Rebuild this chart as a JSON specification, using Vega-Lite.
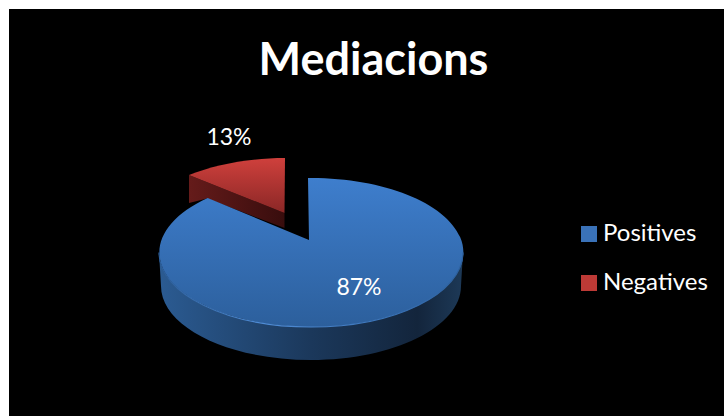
{
  "$schema": "https://vega.github.io/schema/vega-lite/v6.json",
  "width": 715,
  "height": 407,
  "padding": {"left": 9, "top": 9, "right": 0, "bottom": 0},
  "autosize": {"type": "none"},
  "background": "white",
  "view": {"fill": "black", "stroke": null},
  "title": {
    "text": "Mediacions",
    "anchor": "middle",
    "frame": "group",
    "font": "Lato",
    "fontSize": 45,
    "fontWeight": "bold",
    "color": "white",
    "baseline": "alphabetic",
    "offset": 0,
    "dx": 7,
    "dy": 111
  },
  "data": {
    "values": [
      {"category": "Positives", "share": 0.87},
      {"category": "Negatives", "share": 0.13}
    ]
  },
  "layer": [
    {
      "description": "Cut face of the small slice",
      "transform": [{"filter": "datum.category === 'Negatives'"}],
      "mark": {
        "type": "point", "filled": true, "size": 4, "opacity": 1,
        "shape": "M-177.5 -37.5 L-82 0.5 L-82 15.5 L-159.5 -14 L-177.5 -9.5 Z",
        "fill": {"gradient": "linear", "x1": 0, "y1": 0, "x2": 1, "y2": 0, "stops": [
          {"offset": 0, "color": "#651b1a"},
          {"offset": 1, "color": "#380d0d"}
        ]}
      }
    },
    {
      "description": "Rounded side wall of the large slice",
      "transform": [{"filter": "datum.category === 'Positives'"}],
      "mark": {
        "type": "point", "filled": true, "size": 4, "opacity": 1,
        "shape": "M-207.5 40 L-205.5 73.5 A150 74 0 0 0 94.5 73.5 L96.5 40 A152 74.5 0 0 1 -207.5 40 Z",
        "fill": {"gradient": "linear", "x1": 0, "y1": 0, "x2": 1, "y2": 0, "stops": [
          {"offset": 0, "color": "#2b5b92"},
          {"offset": 0.5, "color": "#1b385b"},
          {"offset": 0.85, "color": "#13253c"},
          {"offset": 1, "color": "#1d3957"}
        ]}
      }
    },
    {
      "description": "Small squares tucked under the large slice that feed the legend",
      "mark": {"type": "point", "filled": true, "size": 4, "opacity": 1, "shape": "square"},
      "encoding": {
        "color": {
          "field": "category",
          "scale": {
            "domain": ["Positives", "Negatives"],
            "range": ["#3a72b8", "#bd3a36"]
          },
          "legend": {
            "orient": "none",
            "legendX": 568,
            "legendY": 213,
            "title": null,
            "symbolType": "square",
            "symbolSize": 256,
            "symbolStrokeWidth": 0,
            "symbolOpacity": 1,
            "labelColor": "white",
            "labelFont": "Lato",
            "labelFontSize": 24,
            "labelOffset": 2,
            "labelLimit": 200,
            "rowPadding": 25
          }
        }
      }
    },
    {
      "description": "Top face of the large slice",
      "transform": [{"filter": "datum.category === 'Positives'"}],
      "mark": {
        "type": "point", "filled": true, "size": 4, "opacity": 1,
        "shape": "M-57.5 27.5 L-58.5 -34.5 A152 74.5 0 1 1 -158.8 -14.5 Z",
        "fill": {"gradient": "linear", "x1": 0, "y1": 0, "x2": 0, "y2": 1, "stops": [
          {"offset": 0, "color": "#3e7ecd"},
          {"offset": 1, "color": "#2c5f9c"}
        ]}
      }
    },
    {
      "description": "Top face of the small slice",
      "transform": [{"filter": "datum.category === 'Negatives'"}],
      "mark": {
        "type": "point", "filled": true, "size": 4, "opacity": 1,
        "shape": "M-82 0.5 L-81.5 -54.5 A150 72 0 0 0 -177.5 -37.5 Z",
        "fill": {"gradient": "linear", "x1": 0, "y1": 0, "x2": 0, "y2": 1, "stops": [
          {"offset": 0, "color": "#cf403c"},
          {"offset": 1, "color": "#8a2726"}
        ]}
      }
    },
    {
      "description": "Light rim along the front edge of the large slice",
      "transform": [{"filter": "datum.category === 'Positives'"}],
      "mark": {
        "type": "point",
        "filled": false,
        "size": 4,
        "opacity": 1,
        "strokeWidth": 1.2,
        "shape": "M-207.5 40 A152 74.5 0 0 0 96.5 40",
        "stroke": {"gradient": "linear", "x1": 0, "y1": 0, "x2": 1, "y2": 0, "stops": [
          {"offset": 0, "color": "#2c5f9c"},
          {"offset": 0.35, "color": "#4f8cd6"},
          {"offset": 0.75, "color": "#3b74b8"},
          {"offset": 1, "color": "#2c5f9c"}
        ]}
      }
    },
    {
      "description": "Share label on the large slice",
      "transform": [{"filter": "datum.category === 'Positives'"}],
      "mark": {"type": "text", "color": "white", "font": "Lato", "fontSize": 23, "dx": -7.5, "dy": 75},
      "encoding": {"text": {"field": "share", "format": ".0%"}}
    },
    {
      "description": "Share label above the small slice",
      "transform": [{"filter": "datum.category === 'Negatives'"}],
      "mark": {"type": "text", "color": "white", "font": "Lato", "fontSize": 23, "dx": -137.5, "dy": -75},
      "encoding": {"text": {"field": "share", "format": ".0%"}}
    }
  ]
}
